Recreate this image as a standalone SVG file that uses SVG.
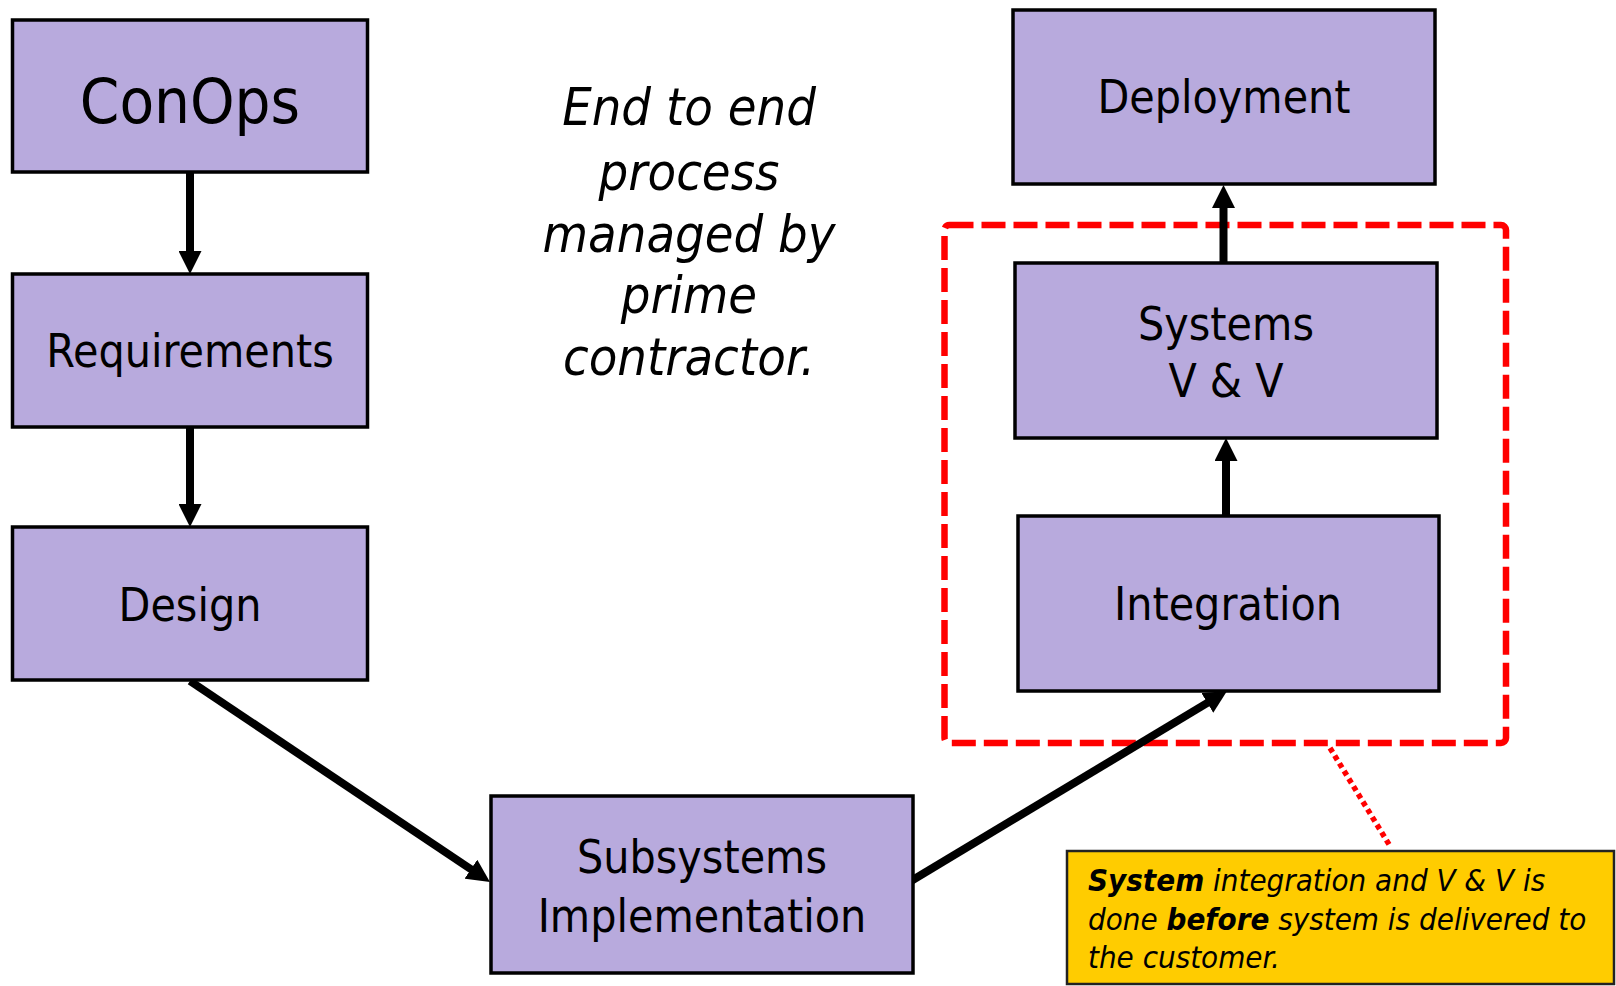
<svg xmlns="http://www.w3.org/2000/svg" width="1616" height="986" viewBox="0 0 1616 986">
<style>
.box{fill:#B8AADD;stroke:#000;stroke-width:3.5}
.lbl{font-family:'DejaVu Sans Condensed','DejaVu Sans',sans-serif;font-stretch:condensed;font-size:46px;fill:#000;text-anchor:middle}
.big{font-size:63px}
.note{font-family:'DejaVu Sans Condensed','DejaVu Sans',sans-serif;font-stretch:condensed;font-style:italic;font-size:52px;fill:#000;text-anchor:middle}
.call{font-family:'DejaVu Sans Condensed','DejaVu Sans',sans-serif;font-stretch:condensed;font-style:italic;font-size:31px;fill:#000}
.b{font-weight:bold}
.conn{stroke:#000;stroke-width:8;fill:none;marker-end:url(#ah)}
</style>
<defs>
<marker id="ah" viewBox="0 0 23 23" refX="1" refY="11.5" markerWidth="23" markerHeight="23" markerUnits="userSpaceOnUse" orient="auto">
<path d="M0,0 L23,11.5 L0,23 Z" fill="#000"/>
</marker>
</defs>
<rect width="1616" height="986" fill="#fff"/>

<g id="group-frame">
<rect x="944.5" y="225" width="561.5" height="518" rx="5" fill="none" stroke="#FF0000" stroke-width="6.5" stroke-dasharray="24 8"/>
</g>

<g id="connectors">
<line class="conn" x1="190" y1="172" x2="190" y2="252"/>
<line class="conn" x1="190" y1="427" x2="190" y2="505"/>
<line class="conn" x1="190" y1="681" x2="471.7" y2="869.8"/>
<line class="conn" x1="911" y1="881" x2="1208.2" y2="702.4"/>
<line class="conn" x1="1226" y1="516" x2="1226" y2="460"/>
<line class="conn" x1="1223.5" y1="267" x2="1223.5" y2="207"/>
<line x1="1330" y1="748" x2="1390" y2="846" stroke="#FF0000" stroke-width="5.5" stroke-dasharray="5 4"/>
</g>

<g id="conops">
<rect class="box" x="12.5" y="20" width="355" height="152"/>
<text class="lbl big" x="190" y="123">ConOps</text>
</g>
<g id="requirements">
<rect class="box" x="12.5" y="274" width="355" height="153"/>
<text class="lbl" x="190" y="367">Requirements</text>
</g>
<g id="design">
<rect class="box" x="12.5" y="527" width="355" height="153"/>
<text class="lbl" x="190" y="621">Design</text>
</g>
<g id="subsystems">
<rect class="box" x="491" y="796" width="422" height="177"/>
<text class="lbl" x="702" y="873">Subsystems</text>
<text class="lbl" x="702" y="932">Implementation</text>
</g>
<g id="integration">
<rect class="box" x="1018" y="516" width="421" height="175"/>
<text class="lbl" x="1228" y="620">Integration</text>
</g>
<g id="systems-vv">
<rect class="box" x="1015" y="263" width="422" height="175"/>
<text class="lbl" x="1226" y="340">Systems</text>
<text class="lbl" x="1226" y="397">V &amp; V</text>
</g>
<g id="deployment">
<rect class="box" x="1013" y="10" width="422" height="174"/>
<text class="lbl" x="1224" y="113">Deployment</text>
</g>

<g id="process-note">
<text class="note" x="689" y="125">End to end</text>
<text class="note" x="689" y="190">process</text>
<text class="note" x="689" y="252">managed by</text>
<text class="note" x="689" y="313">prime</text>
<text class="note" x="689" y="375">contractor.</text>
</g>

<g id="callout">
<rect x="1067" y="851" width="547" height="133" fill="#FFCC00" stroke="#222" stroke-width="2.5"/>
<text class="call" x="1088" y="891"><tspan class="b">System</tspan> integration and V &amp; V is</text>
<text class="call" x="1088" y="930">done <tspan class="b">before</tspan> system is delivered to</text>
<text class="call" x="1088" y="968">the customer.</text>
</g>
</svg>
